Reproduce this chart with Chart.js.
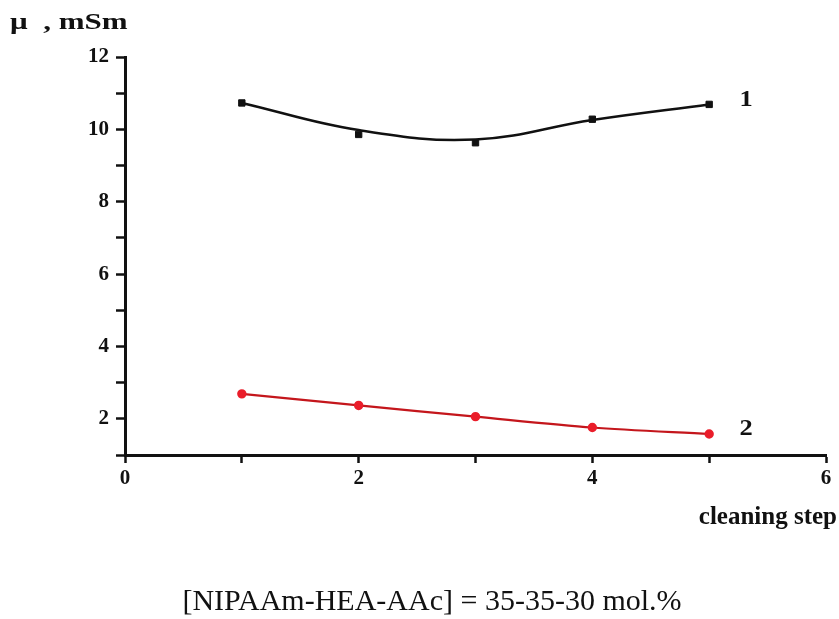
<!DOCTYPE html>
<html>
<head>
<meta charset="utf-8">
<script src="https://cdn.jsdelivr.net/npm/chart.js@4/dist/chart.umd.min.js"></script>
<style>
    html, body { margin: 0; padding: 0; background: #fff; }
    #wrap { width: 839px; height: 619px; position: relative; }
</style>
</head>
<body>
<div id="wrap"><canvas id="chart" width="839" height="619"></canvas></div>
<script>
// data
const steps = [1, 2, 3, 4, 5];
const muPoints1 = [10.73, 9.86, 9.63, 10.28, 10.69];   // measured, curve 1
const muFit1 = [10.73, 9.98, 9.72, 10.26, 10.69];       // smooth fit line, curve 1
const muPoints2 = [2.69, 2.37, 2.06, 1.76, 1.58];       // curve 2

const xy = (xs, ys) => xs.map((x, i) => ({ x: x, y: ys[i] }));

const serif = "'Liberation Serif', 'Times New Roman', serif";

// draws text a bit wider than normal, like the scanned figure
function wideText(ctx, txt, x, y, sx) {
    ctx.save();
    ctx.translate(x, y);
    ctx.scale(sx, 1);
    ctx.fillText(txt, 0, 0);
    ctx.restore();
}

// texts that are not part of axes
const textPlugin = {
    id: "texts",
    afterDraw(chart) {
        const ctx = chart.ctx;
        const xs = chart.scales.x, ys = chart.scales.y;
        ctx.save();
        ctx.fillStyle = "#111";
        ctx.textBaseline = "middle";

        ctx.font = "bold 23px " + serif;
        ctx.textAlign = "left";
        wideText(ctx, "1", xs.getPixelForValue(5.26), ys.getPixelForValue(10.8), 1.15);
        wideText(ctx, "2", xs.getPixelForValue(5.26), ys.getPixelForValue(1.72), 1.15);

        ctx.font = "bold 23px " + serif;
        wideText(ctx, "\u03bc  , mSm", 10, 23, 1.35);

        ctx.font = "bold 25px " + serif;
        ctx.textAlign = "right";
        ctx.fillText("cleaning step", 837, 518);

        ctx.font = "30px " + serif;
        ctx.textAlign = "center";
        ctx.fillText("[NIPAAm-HEA-AAc] = 35-35-30 mol.%", 432, 602);
        ctx.restore();
    }
};

new Chart(document.getElementById("chart"), {
    type: "line",
    data: {
        datasets: [
            {
                data: xy(steps, muFit1),
                borderColor: "#111",
                borderWidth: 2.5,
                tension: 0.4,
                pointRadius: 0
            },
            {
                data: xy(steps, muPoints1),
                showLine: false,
                pointStyle: "rect",
                pointRadius: 4.5,
                pointBackgroundColor: "#111",
                pointBorderColor: "#111"
            },
            {
                data: xy(steps, muPoints2),
                borderColor: "#c4161c",
                borderWidth: 2.2,
                tension: 0.3,
                pointRadius: 3.6,
                pointBackgroundColor: "#ea1d2a",
                pointBorderColor: "#ea1d2a"
            }
        ]
    },
    options: {
        responsive: false,
        animation: false,
        layout: { padding: { left: 0, top: 57, right: 13, bottom: 124 } },
        plugins: { legend: { display: false }, tooltip: { enabled: false } },
        scales: {
            x: {
                type: "linear",
                min: 0,
                max: 6,
                afterFit(scale) { scale.height = 40; },
                border: { color: "#111", width: 3 },
                grid: { drawOnChartArea: false, tickLength: 8, tickColor: "#111", tickWidth: 2.5 },
                ticks: {
                    stepSize: 1,
                    color: "#111",
                    font: { family: serif, weight: "bold", size: 21 },
                    padding: 3,
                    callback: v => (v % 2 === 0 ? v : "")
                }
            },
            y: {
                min: 1,
                max: 12,
                afterFit(scale) { scale.width = 125; },
                border: { color: "#111", width: 3 },
                grid: { drawOnChartArea: false, tickLength: 9, tickColor: "#111", tickWidth: 2.5 },
                ticks: {
                    stepSize: 1,
                    color: "#111",
                    font: { family: serif, weight: "bold", size: 21 },
                    padding: 7,
                    callback: v => (v % 2 === 0 ? v : "")
                }
            }
        }
    },
    plugins: [textPlugin]
});
</script>
</body>
</html>
